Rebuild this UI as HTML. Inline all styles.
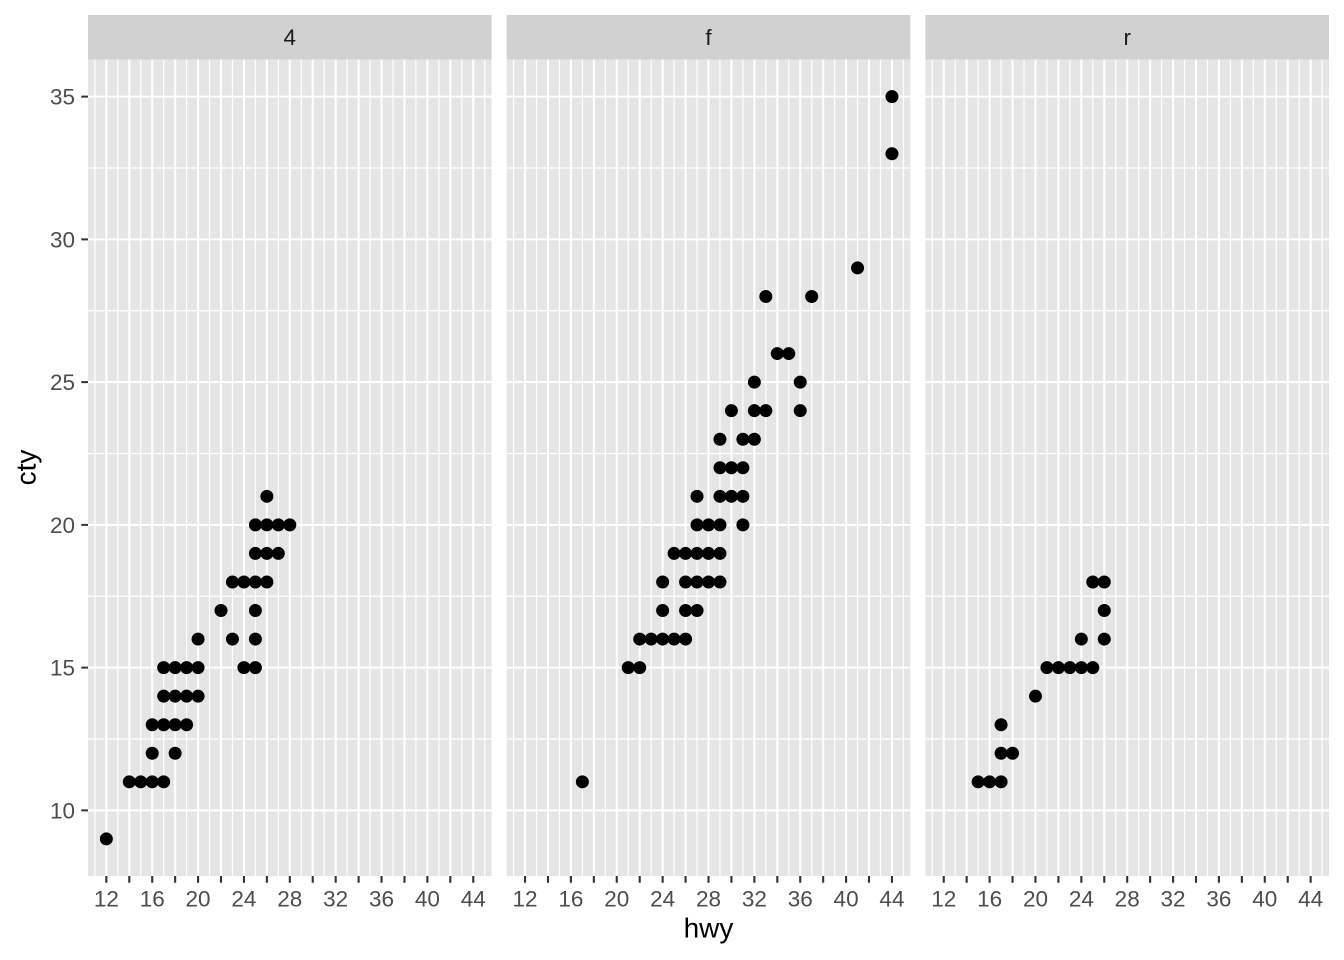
<!DOCTYPE html>
<html>
<head>
<meta charset="utf-8">
<style>
  html, body { margin:0; padding:0; background:#ffffff; }
  svg { display:block; }
  text { font-family: "Liberation Sans", "DejaVu Sans", sans-serif; }
  circle { r: 6.5; }
</style>
</head>
<body>
<svg width="1344" height="960" viewBox="0 0 1344 960" xmlns="http://www.w3.org/2000/svg">
  <defs>
    <g id="panel">
      <rect x="0" y="15" width="403.6" height="44.5" fill="#D1D1D1"/>
      <rect x="0" y="59.5" width="403.6" height="816.5" fill="#E5E5E5"/>
      <path stroke="#FFFFFF" stroke-width="1.2" fill="none" d="
        M0 167.99H403.6 M0 310.74H403.6 M0 453.49H403.6 M0 596.24H403.6 M0 738.99H403.6
        M6.88 59.5V876 M29.81 59.5V876 M52.74 59.5V876 M75.68 59.5V876 M98.61 59.5V876
        M121.54 59.5V876 M144.47 59.5V876 M167.40 59.5V876 M190.34 59.5V876 M213.27 59.5V876
        M236.20 59.5V876 M259.13 59.5V876 M282.06 59.5V876 M305.00 59.5V876 M327.93 59.5V876
        M350.86 59.5V876 M373.79 59.5V876 M396.72 59.5V876"/>
      <path stroke="#FFFFFF" stroke-width="2.1" fill="none" d="
        M0 96.62H403.6 M0 239.37H403.6 M0 382.12H403.6 M0 524.87H403.6 M0 667.62H403.6 M0 810.37H403.6
        M18.35 59.5V876 M41.28 59.5V876 M64.21 59.5V876 M87.14 59.5V876 M110.07 59.5V876
        M133.01 59.5V876 M155.94 59.5V876 M178.87 59.5V876 M201.80 59.5V876 M224.73 59.5V876
        M247.67 59.5V876 M270.60 59.5V876 M293.53 59.5V876 M316.46 59.5V876 M339.39 59.5V876
        M362.33 59.5V876 M385.26 59.5V876"/>
      <path stroke="#333333" stroke-width="2.1" fill="none" d="
        M18.35 876V882.7 M41.28 876V882.7 M64.21 876V882.7 M87.14 876V882.7 M110.07 876V882.7
        M133.01 876V882.7 M155.94 876V882.7 M178.87 876V882.7 M201.80 876V882.7 M224.73 876V882.7
        M247.67 876V882.7 M270.60 876V882.7 M293.53 876V882.7 M316.46 876V882.7 M339.39 876V882.7
        M362.33 876V882.7 M385.26 876V882.7"/>
    </g>
  </defs>

  <use href="#panel" x="88" y="0"/>
  <use href="#panel" x="506.7" y="0"/>
  <use href="#panel" x="925.4" y="0"/>

  <path stroke="#333333" stroke-width="2.1" fill="none" d="
    M81.3 96.62H88 M81.3 239.37H88 M81.3 382.12H88 M81.3 524.87H88 M81.3 667.62H88 M81.3 810.37H88"/>

  <g font-size="22.5" fill="#4D4D4D" text-anchor="end">
    <text x="75" y="104.7">35</text>
    <text x="75" y="247.4">30</text>
    <text x="75" y="390.2">25</text>
    <text x="75" y="532.9">20</text>
    <text x="75" y="675.7">15</text>
    <text x="75" y="818.4">10</text>
  </g>

  <g font-size="22.5" fill="#4D4D4D" text-anchor="middle">
    <g transform="translate(88,0)">
      <text x="18.35" y="906.5">12</text><text x="64.21" y="906.5">16</text><text x="110.07" y="906.5">20</text>
      <text x="155.94" y="906.5">24</text><text x="201.80" y="906.5">28</text><text x="247.67" y="906.5">32</text>
      <text x="293.53" y="906.5">36</text><text x="339.39" y="906.5">40</text><text x="385.26" y="906.5">44</text>
    </g>
    <g transform="translate(506.7,0)">
      <text x="18.35" y="906.5">12</text><text x="64.21" y="906.5">16</text><text x="110.07" y="906.5">20</text>
      <text x="155.94" y="906.5">24</text><text x="201.80" y="906.5">28</text><text x="247.67" y="906.5">32</text>
      <text x="293.53" y="906.5">36</text><text x="339.39" y="906.5">40</text><text x="385.26" y="906.5">44</text>
    </g>
    <g transform="translate(925.4,0)">
      <text x="18.35" y="906.5">12</text><text x="64.21" y="906.5">16</text><text x="110.07" y="906.5">20</text>
      <text x="155.94" y="906.5">24</text><text x="201.80" y="906.5">28</text><text x="247.67" y="906.5">32</text>
      <text x="293.53" y="906.5">36</text><text x="339.39" y="906.5">40</text><text x="385.26" y="906.5">44</text>
    </g>
  </g>

  <g font-size="22.5" fill="#1A1A1A" text-anchor="middle">
    <text x="289.8" y="45.2">4</text>
    <text x="708.5" y="45.2">f</text>
    <text x="1127.2" y="45.2">r</text>
  </g>

  <text x="708.5" y="937.5" font-size="28" fill="#000000" text-anchor="middle">hwy</text>
  <text transform="translate(35.5,467.5) rotate(-90)" font-size="28" fill="#000000" text-anchor="middle">cty</text>

  <g fill="#000000" transform="translate(88,0)">
    <circle cx="18.35" cy="838.92" r="6.5"/>
    <circle cx="41.28" cy="781.82" r="6.5"/><circle cx="52.74" cy="781.82" r="6.5"/><circle cx="64.21" cy="781.82" r="6.5"/><circle cx="75.68" cy="781.82" r="6.5"/>
    <circle cx="64.21" cy="753.27" r="6.5"/><circle cx="87.14" cy="753.27" r="6.5"/>
    <circle cx="64.21" cy="724.72" r="6.5"/><circle cx="75.68" cy="724.72" r="6.5"/><circle cx="87.14" cy="724.72" r="6.5"/><circle cx="98.61" cy="724.72" r="6.5"/>
    <circle cx="75.68" cy="696.17" r="6.5"/><circle cx="87.14" cy="696.17" r="6.5"/><circle cx="98.61" cy="696.17" r="6.5"/><circle cx="110.07" cy="696.17" r="6.5"/>
    <circle cx="75.68" cy="667.62" r="6.5"/><circle cx="87.14" cy="667.62" r="6.5"/><circle cx="98.61" cy="667.62" r="6.5"/><circle cx="110.07" cy="667.62" r="6.5"/>
    <circle cx="155.94" cy="667.62" r="6.5"/><circle cx="167.40" cy="667.62" r="6.5"/>
    <circle cx="110.07" cy="639.07" r="6.5"/><circle cx="144.47" cy="639.07" r="6.5"/><circle cx="167.40" cy="639.07" r="6.5"/>
    <circle cx="133.01" cy="610.52" r="6.5"/><circle cx="167.40" cy="610.52" r="6.5"/>
    <circle cx="144.47" cy="581.97" r="6.5"/><circle cx="155.94" cy="581.97" r="6.5"/><circle cx="167.40" cy="581.97" r="6.5"/><circle cx="178.87" cy="581.97" r="6.5"/>
    <circle cx="167.40" cy="553.42" r="6.5"/><circle cx="178.87" cy="553.42" r="6.5"/><circle cx="190.34" cy="553.42" r="6.5"/>
    <circle cx="167.40" cy="524.87" r="6.5"/><circle cx="178.87" cy="524.87" r="6.5"/><circle cx="190.34" cy="524.87" r="6.5"/><circle cx="201.80" cy="524.87" r="6.5"/>
    <circle cx="178.87" cy="496.32" r="6.5"/>
  </g>

  <g fill="#000000" transform="translate(506.7,0)">
    <circle cx="75.68" cy="781.82" r="6.5"/>
    <circle cx="121.54" cy="667.62" r="6.5"/><circle cx="133.01" cy="667.62" r="6.5"/>
    <circle cx="133.01" cy="639.07" r="6.5"/><circle cx="144.47" cy="639.07" r="6.5"/><circle cx="155.94" cy="639.07" r="6.5"/><circle cx="167.40" cy="639.07" r="6.5"/><circle cx="178.87" cy="639.07" r="6.5"/>
    <circle cx="155.94" cy="610.52" r="6.5"/><circle cx="178.87" cy="610.52" r="6.5"/><circle cx="190.34" cy="610.52" r="6.5"/>
    <circle cx="155.94" cy="581.97" r="6.5"/><circle cx="178.87" cy="581.97" r="6.5"/><circle cx="190.34" cy="581.97" r="6.5"/><circle cx="201.80" cy="581.97" r="6.5"/><circle cx="213.27" cy="581.97" r="6.5"/>
    <circle cx="167.40" cy="553.42" r="6.5"/><circle cx="178.87" cy="553.42" r="6.5"/><circle cx="190.34" cy="553.42" r="6.5"/><circle cx="201.80" cy="553.42" r="6.5"/><circle cx="213.27" cy="553.42" r="6.5"/>
    <circle cx="190.34" cy="524.87" r="6.5"/><circle cx="201.80" cy="524.87" r="6.5"/><circle cx="213.27" cy="524.87" r="6.5"/><circle cx="236.20" cy="524.87" r="6.5"/>
    <circle cx="190.34" cy="496.32" r="6.5"/><circle cx="213.27" cy="496.32" r="6.5"/><circle cx="224.73" cy="496.32" r="6.5"/><circle cx="236.20" cy="496.32" r="6.5"/>
    <circle cx="213.27" cy="467.77" r="6.5"/><circle cx="224.73" cy="467.77" r="6.5"/><circle cx="236.20" cy="467.77" r="6.5"/>
    <circle cx="213.27" cy="439.22" r="6.5"/><circle cx="236.20" cy="439.22" r="6.5"/><circle cx="247.67" cy="439.22" r="6.5"/>
    <circle cx="224.73" cy="410.67" r="6.5"/><circle cx="247.67" cy="410.67" r="6.5"/><circle cx="259.13" cy="410.67" r="6.5"/><circle cx="293.53" cy="410.67" r="6.5"/>
    <circle cx="247.67" cy="382.12" r="6.5"/><circle cx="293.53" cy="382.12" r="6.5"/>
    <circle cx="270.60" cy="353.57" r="6.5"/><circle cx="282.06" cy="353.57" r="6.5"/>
    <circle cx="259.13" cy="296.47" r="6.5"/><circle cx="305.00" cy="296.47" r="6.5"/>
    <circle cx="350.86" cy="267.92" r="6.5"/>
    <circle cx="385.26" cy="153.72" r="6.5"/>
    <circle cx="385.26" cy="96.62" r="6.5"/>
  </g>

  <g fill="#000000" transform="translate(925.4,0)">
    <circle cx="52.74" cy="781.82" r="6.5"/><circle cx="64.21" cy="781.82" r="6.5"/><circle cx="75.68" cy="781.82" r="6.5"/>
    <circle cx="75.68" cy="753.27" r="6.5"/><circle cx="87.14" cy="753.27" r="6.5"/>
    <circle cx="75.68" cy="724.72" r="6.5"/>
    <circle cx="110.07" cy="696.17" r="6.5"/>
    <circle cx="121.54" cy="667.62" r="6.5"/><circle cx="133.01" cy="667.62" r="6.5"/><circle cx="144.47" cy="667.62" r="6.5"/><circle cx="155.94" cy="667.62" r="6.5"/><circle cx="167.40" cy="667.62" r="6.5"/>
    <circle cx="155.94" cy="639.07" r="6.5"/><circle cx="178.87" cy="639.07" r="6.5"/>
    <circle cx="178.87" cy="610.52" r="6.5"/>
    <circle cx="167.40" cy="581.97" r="6.5"/><circle cx="178.87" cy="581.97" r="6.5"/>
  </g>
</svg>
</body>
</html>
